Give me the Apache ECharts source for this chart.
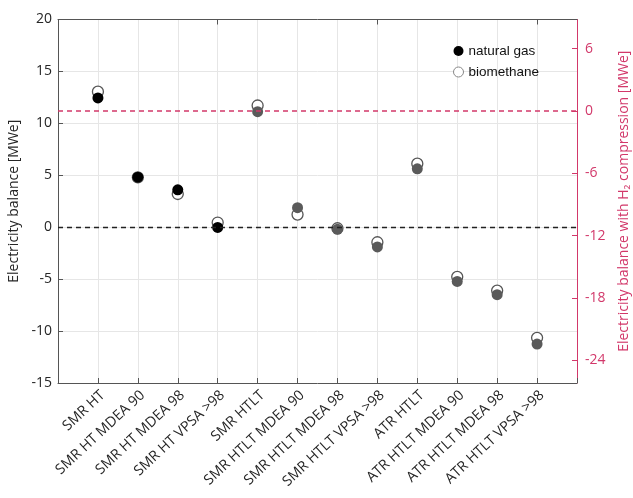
<!DOCTYPE html>
<html>
<head>
<meta charset="utf-8">
<script src="https://cdn.jsdelivr.net/npm/echarts@6/dist/echarts.min.js"></script>
<style>html,body{margin:0;padding:0;background:#fff;}#c{width:633px;height:498px;}</style>
</head>
<body>
<div id="c"></div>
<script>
const categories = ['SMR HT','SMR HT MDEA 90','SMR HT MDEA 98','SMR HT VPSA >98','SMR HTLT','SMR HTLT MDEA 90','SMR HTLT MDEA 98','SMR HTLT VPSA >98','ATR HTLT','ATR HTLT MDEA 90','ATR HTLT MDEA 98','ATR HTLT VPSA >98'];
const naturalGas = [12.45, 4.82, 3.6, -0.02, 11.12, 1.88, -0.2, -1.9, 5.62, -5.22, -6.5, -11.25];
const biomethane = [13.05, 4.8, 3.2, 0.45, 11.72, 1.22, -0.1, -1.45, 6.12, -4.78, -6.1, -10.65];
const leftTicks = [-15, -10, -5, 0, 5, 10, 15, 20];
const rightTicks = [-24, -18, -12, -6, 0, 6];
const rightOffset = 11.2; // right axis 0 sits at left-axis value 11.2

const RED = '#d2386a';
const axisData = [''].concat(categories, ['']);
const chart = echarts.init(document.getElementById('c'));
const font = 'Open Sans';
chart.setOption({
  animation: false,
  grid: {left: 58, right: 56, top: 19.5, bottom: 115, outerBoundsMode: 'none', containLabel: false},
  legend: {
    orient: 'vertical', left: 448, top: 39, itemGap: 7, itemWidth: 10, itemHeight: 10,
    textStyle: {fontFamily: 'Liberation Sans', fontSize: 13.5, color: '#111'},
    data: [
      {name: 'natural gas', icon: 'circle', itemStyle: {color: '#000', borderWidth: 0, opacity: 1}},
      {name: 'biomethane', icon: 'circle', itemStyle: {color: '#fff', borderColor: '#888', borderWidth: 1, opacity: 1}}
    ]
  },
  xAxis: [{
    type: 'category', data: axisData, boundaryGap: false,
    axisLine: {onZero: false, lineStyle: {color: '#555', width: 1}},
    axisTick: {inside: true, length: 5, lineStyle: {color: '#555'}},
    splitLine: {show: true, interval: 0, lineStyle: {color: '#e6e6e6'}},
    axisLabel: {interval: 0, rotate: 43, fontFamily: font, fontSize: 14.3, color: '#262626',
      margin: 5, verticalAlign: 'top'}
  }, {
    type: 'category', data: axisData, boundaryGap: false, position: 'top',
    axisLine: {show: true, onZero: false, lineStyle: {color: '#555', width: 1}},
    axisTick: {show: true, inside: true, length: 5, lineStyle: {color: '#555'}},
    axisLabel: {show: false}, splitLine: {show: false}
  }],
  yAxis: [{
    type: 'value', min: -15, max: 20, interval: 5,
    name: 'Electricity balance [MWe]', nameLocation: 'middle', nameGap: 29,
    nameTextStyle: {fontFamily: font, fontSize: 14, color: '#262626'},
    axisLine: {show: true, onZero: false, lineStyle: {color: '#555', width: 1}},
    axisTick: {show: true, inside: true, length: 5, lineStyle: {color: '#555'}},
    splitLine: {show: true, lineStyle: {color: '#e6e6e6'}},
    axisLabel: {fontFamily: font, fontSize: 14, color: '#262626', margin: 6,
      customValues: leftTicks}
  }, {
    type: 'value', position: 'right', min: -15 - rightOffset, max: 20 - rightOffset,
    name: 'Electricity balance with H\u2082 compression [MWe]', nameLocation: 'middle', nameGap: 40,
    nameTextStyle: {fontFamily: font, fontSize: 14, color: RED},
    axisLine: {show: true, onZero: false, lineStyle: {color: RED, width: 1}},
    axisTick: {show: true, inside: true, length: 5, lineStyle: {color: RED}, customValues: rightTicks},
    splitLine: {show: false},
    axisLabel: {fontFamily: font, fontSize: 14, color: RED, margin: 8, customValues: rightTicks}
  }],
  series: [{
    name: 'biomethane', type: 'scatter', xAxisIndex: 0, yAxisIndex: 0,
    symbol: 'circle', symbolSize: 11, z: 3,
    data: biomethane.map((v, i) => [categories[i], v]),
    itemStyle: {color: '#fff', borderWidth: 1.3, opacity: 1,
      borderColor: p => p.dataIndex < 4 ? '#111' : '#666'},
    markLine: {silent: true, symbol: 'none', label: {show: false},
      emphasis: {disabled: true}, blur: {lineStyle: {opacity: 1}},
      lineStyle: {color: '#222', type: [5, 4], width: 1.3, opacity: 1},
      data: [{yAxis: 0}]}
  }, {
    name: 'natural gas', type: 'scatter', xAxisIndex: 0, yAxisIndex: 0,
    symbol: 'circle', symbolSize: 11, z: 4,
    data: naturalGas.map((v, i) => [categories[i], v]),
    itemStyle: {color: p => p.dataIndex < 4 ? '#000' : '#5a5a5a', borderWidth: 0, opacity: 1}
  }, {
    name: 'h2 reference', type: 'scatter', xAxisIndex: 0, yAxisIndex: 1, data: [],
    color: RED, z: 2,
    markLine: {silent: true, symbol: 'none', label: {show: false},
      emphasis: {disabled: true}, blur: {lineStyle: {opacity: 1}},
      lineStyle: {color: RED, type: [5, 4], width: 1.6, opacity: 1},
      data: [{yAxis: 0}]}
  }]
});
</script>
</body>
</html>
